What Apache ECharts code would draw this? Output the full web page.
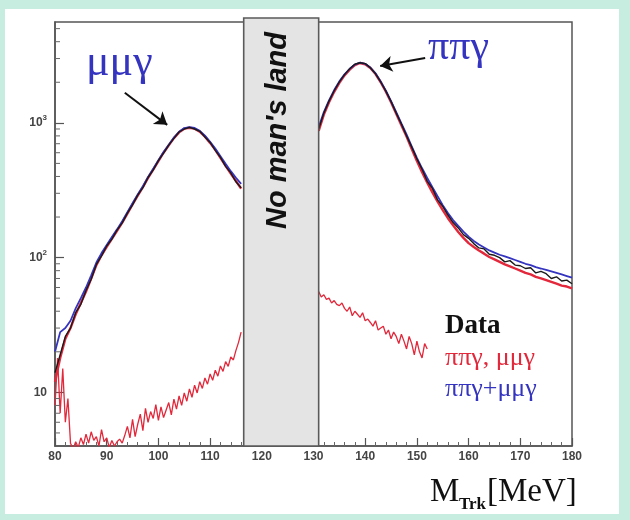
<!DOCTYPE html>
<html>
<head>
<meta charset="utf-8">
<script src="https://cdn.jsdelivr.net/npm/echarts@6/dist/echarts.min.js"></script>
<style>
  html, body { margin: 0; padding: 0; background: #c6eddf; }
  #paper { position: absolute; left: 5px; top: 9px; width: 614px; height: 505px; background: #ffffff; }
  #chart { position: absolute; left: 0; top: 0; width: 630px; height: 520px; }
</style>
</head>
<body>
<div id="paper"></div>
<div id="chart"></div>
<script>
// Track-mass spectrum, log scale: data vs. MC for pi pi gamma and mu mu gamma.

// Bin centres (MeV)
function bins(a, b, step) {
  const out = [];
  for (let x = a; x <= b + 1e-9; x += step) out.push(+x.toFixed(2));
  return out;
}
const massLeft = bins(80, 116, 1);      // below the excluded window
const massRight = bins(131, 180, 1);    // above the excluded window
const massLowLeft = bins(80, 116, 0.5);
const massLowRight = bins(131, 152, 0.5);

// Excluded window "No man's land" (MeV)
const noMansLand = [116.5, 131];

// Data
const dataLeft = [14, 19, 26, 30, 39, 45, 57, 69, 89, 103,
  122, 137, 160, 181, 214, 246, 291, 330, 393, 447,
  524, 596, 684, 766, 855, 900, 925, 900, 865, 785,
  715, 625, 555, 475, 425, 365, 330];
const dataRight = [900, 1180, 1450, 1730, 2010, 2280, 2520, 2720, 2790, 2750,
  2560, 2310, 2010, 1720, 1440, 1180, 980, 800, 660, 540,
  452, 368, 326, 268, 240, 207, 182, 166, 148, 139,
  127, 118, 116, 106, 104, 100, 93, 95, 88, 87,
  83, 84, 77, 79, 76, 70, 72, 67, 68, 64];

// MC mu mu gamma (dominant below the window)
const mumuMain = [12, 18, 25, 30, 38, 46, 56, 70, 88, 104,
  120, 138, 158, 182, 212, 248, 288, 333, 390, 450,
  520, 600, 680, 770, 850, 905, 920, 905, 860, 790,
  710, 630, 550, 480, 420, 370, 325];
// MC pi pi gamma (dominant above the window)
const pipiMain = [870, 1150, 1420, 1700, 1980, 2250, 2480, 2680, 2780, 2720,
  2550, 2300, 2000, 1700, 1420, 1170, 960, 790, 640, 520,
  430, 360, 305, 260, 225, 196, 174, 155, 140, 128,
  120, 113, 107, 101, 97, 93, 89, 86, 83, 80,
  77, 75, 72, 70, 68, 66, 64, 62, 61, 59];
// MC pi pi gamma below the window
const pipiLow = [8, 18, 7, 15, 6, 9, 4.2, 3.8, 4.3, 3.9,
  4.6, 4.1, 4.9, 4.2, 5.1, 4.4, 4.7, 4.0, 5.3, 4.3,
  4.6, 3.9, 4.4, 4.0, 4.3, 4.5, 4.2, 4.8, 5.6, 4.6,
  6.3, 4.7, 5.8, 6.9, 5.2, 7.6, 6.0, 7.2, 6.4, 8.1,
  6.2, 7.8, 6.5, 7.4, 8.4, 6.8, 8.9, 7.5, 9.4, 8.0,
  9.9, 8.6, 10.6, 9.2, 11.3, 9.9, 12.0, 10.7, 12.8, 11.5,
  13.7, 12.3, 14.6, 13.2, 15.7, 14.3, 16.9, 15.6, 18.3, 17.4,
  20.5, 23.5, 28];
// MC mu mu gamma above the window
const mumuLow = [56, 51, 53, 49, 50, 46, 48, 45, 44, 46,
  42, 40, 43, 37, 40, 38, 36, 39, 34, 35,
  33, 31, 34, 29, 30, 31, 27, 29, 25, 28,
  26, 23, 27, 24, 21, 26, 23, 19, 24, 20,
  18, 23, 21];
// MC sum pi pi gamma + mu mu gamma
const sumLeft = [20, 28, 30, 34, 42, 50, 60, 74, 92, 108,
  124, 142, 162, 186, 217, 253, 294, 339, 397, 457,
  527, 607, 688, 778, 859, 915, 931, 916, 872, 803,
  724, 645, 566, 497, 438, 391, 352];
const sumRight = [930, 1200, 1470, 1750, 2030, 2290, 2520, 2710, 2800, 2740,
  2570, 2330, 2030, 1730, 1450, 1200, 990, 820, 670, 550,
  460, 390, 333, 285, 245, 214, 190, 172, 156, 143,
  133, 125, 119, 113, 109, 105, 102, 99, 96, 93,
  90, 88, 85, 83, 81, 79, 77, 75, 73, 71];

// Axis ticks
const xRange = [80, 180];
const yRange = [4, 5600];
const yDecades = [10, 100, 1000];
const yDecadeLabels = ['10', '10{sup|2}', '10{sup|3}'];
const yMinorTicks = [5, 6, 7, 8, 9, 20, 30, 40, 50, 60, 70, 80, 90,
  200, 300, 400, 500, 600, 700, 800, 900, 2000, 3000, 4000, 5000];

const NAME_DATA = 'Data';
const NAME_MC = 'ππγ, μμγ';
const NAME_SUM = 'ππγ+μμγ';

const RED = '#e2283a';
const BLUE = '#3434c0';
const BLACK = '#1a1a1a';
const SERIF = '"Liberation Serif", "Times New Roman", serif';
const SANS = '"Liberation Sans", Arial, sans-serif';

function pts(xs, ys) { return xs.map((x, i) => [x, ys[i]]); }

function curve(name, xs, ys, color, width, z, extra) {
  return Object.assign({
    type: 'line', name: name, data: pts(xs, ys),
    showSymbol: false, symbol: 'none', z: z,
    lineStyle: { color: color, width: width },
    itemStyle: { color: color },
    emphasis: { disabled: true }, silent: true
  }, extra || {});
}

const arrows = {
  markLine: {
    silent: true, symbol: ['none', 'arrow'], symbolSize: 12,
    label: { show: false },
    lineStyle: { color: '#111', width: 2, type: 'solid' },
    emphasis: { disabled: true },
    data: [
      [{ coord: [93.5, 1670] }, { coord: [101.7, 966] }],
      [{ coord: [151.6, 3030] }, { coord: [142.9, 2640] }]
    ]
  }
};

const chart = echarts.init(document.getElementById('chart'), null, { renderer: 'canvas' });

chart.setOption({
  animation: false,
  backgroundColor: 'transparent',
  grid: { left: 55, top: 22, width: 517, height: 424, show: true, borderColor: '#555', borderWidth: 1.5, backgroundColor: 'transparent' },
  xAxis: {
    type: 'value', min: xRange[0], max: xRange[1], interval: 10,
    axisLine: { show: true, lineStyle: { color: '#555', width: 1.5 } },
    axisTick: { show: true, inside: true, length: 8, lineStyle: { color: '#555', width: 1.2 } },
    minorTick: { show: true, splitNumber: 5, length: 4, lineStyle: { color: '#666', width: 1 } },
    splitLine: { show: false },
    axisLabel: { margin: 5, fontSize: 12, fontWeight: 'bold', color: '#444', fontFamily: SANS }
  },
  yAxis: {
    type: 'log', logBase: 10, min: yRange[0], max: yRange[1],
    axisLine: { show: true, lineStyle: { color: '#555', width: 1.5 } },
    axisTick: { show: true, inside: true, length: 9, lineStyle: { color: '#555', width: 1.2 } },
    splitLine: { show: false },
    axisLabel: {
      showMinLabel: false, showMaxLabel: false, margin: 8,
      fontSize: 12, fontWeight: 'bold', color: '#444', fontFamily: SANS,
      formatter: function (v) {
        const k = yDecades.findIndex(d => Math.abs(Math.log10(v) - Math.log10(d)) < 1e-6);
        return k >= 0 ? yDecadeLabels[k] : '';
      },
      rich: { sup: { fontSize: 8, fontWeight: 'bold', color: '#444', fontFamily: SANS, padding: [0, 0, 10, 0] } }
    }
  },
  legend: {
    orient: 'vertical', left: 435, top: 308, itemWidth: 0, itemHeight: 0, itemGap: 5,
    selectedMode: false, icon: 'rect',
    itemStyle: { opacity: 0 }, lineStyle: { opacity: 0 },
    textStyle: { fontFamily: SERIF, fontSize: 26 },
    data: [
      { name: NAME_DATA, textStyle: { color: '#111', fontWeight: 'bold', fontSize: 27 } },
      { name: NAME_MC, textStyle: { color: RED } },
      { name: NAME_SUM, textStyle: { color: BLUE } }
    ]
  },
  series: [
    curve(NAME_MC, massLeft, mumuMain, RED, 2.4, 2),
    curve(NAME_MC, massRight, pipiMain, RED, 2.4, 2),
    curve(NAME_MC, massLowLeft, pipiLow, RED, 1.3, 2),
    curve(NAME_MC, massLowRight, mumuLow, RED, 1.3, 2),
    curve(NAME_SUM, massLeft, sumLeft, BLUE, 1.8, 3),
    curve(NAME_SUM, massRight, sumRight, BLUE, 1.8, 3),
    curve(NAME_DATA, massLeft, dataLeft, BLACK, 1.4, 4, arrows),
    curve(NAME_DATA, massRight, dataRight, BLACK, 1.4, 4),
    {
      type: 'custom', name: 'yMinorTicks', silent: true, clip: false, z: 6,
      data: yMinorTicks.map(v => [xRange[0], v]),
      encode: { x: 0, y: 1 },
      renderItem: function (params, api) {
        const p = api.coord([api.value(0), api.value(1)]);
        return { type: 'line', shape: { x1: p[0], y1: p[1], x2: p[0] + 5, y2: p[1] },
          style: { stroke: '#666', lineWidth: 1 } };
      }
    },
    {
      type: 'custom', name: 'window', silent: true, clip: false, z: 10,
      data: [noMansLand],
      encode: { x: [0, 1] },
      renderItem: function (params, api) {
        const a = api.coord([api.value(0), yRange[1]]);
        const b = api.coord([api.value(1), yRange[0]]);
        const top = a[1] - 4;
        return {
          type: 'group',
          children: [
            { type: 'rect', shape: { x: a[0], y: top, width: b[0] - a[0], height: b[1] - top },
              style: { fill: '#e4e4e4', stroke: '#5a5a5a', lineWidth: 1.6 } },
            { type: 'text', x: (a[0] + b[0]) / 2 - 3, y: top + 14, rotation: Math.PI / 2,
              style: { text: "No man's land", fill: '#111', font: 'italic bold 29px ' + SANS,
                align: 'right', verticalAlign: 'middle' } }
          ]
        };
      }
    }
  ],
  graphic: [
    { type: 'text', x: 86, y: 63, silent: true,
      style: { text: 'μμγ', fill: BLUE, font: '44px ' + SERIF, align: 'left', verticalAlign: 'middle' } },
    { type: 'text', x: 428, y: 48, silent: true,
      style: { text: 'ππγ', fill: BLUE, font: '42px ' + SERIF, align: 'left', verticalAlign: 'middle' } },
    { type: 'text', x: 430, y: 492, silent: true,
      style: { text: 'M', fill: '#111', font: '33px ' + SERIF, align: 'left', verticalAlign: 'middle' } },
    { type: 'text', x: 459, y: 505, silent: true,
      style: { text: 'Trk', fill: '#111', font: 'bold 17px ' + SERIF, align: 'left', verticalAlign: 'middle' } },
    { type: 'text', x: 487, y: 492, silent: true,
      style: { text: '[MeV]', fill: '#111', font: '33px ' + SERIF, align: 'left', verticalAlign: 'middle' } }
  ]
});
</script>
</body>
</html>
